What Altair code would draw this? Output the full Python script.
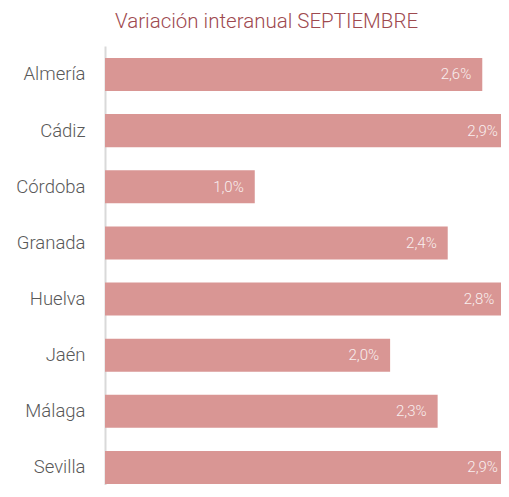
import altair as alt
import pandas as pd

provincias = ["Almería", "Cádiz", "Córdoba", "Granada", "Huelva", "Jaén", "Málaga", "Sevilla"]
valores = [2.62, 2.92, 1.04, 2.38, 2.78, 1.98, 2.31, 2.92]
etiquetas = ["2,6%", "2,9%", "1,0%", "2,4%", "2,8%", "2,0%", "2,3%", "2,9%"]

df = pd.DataFrame({"prov": provincias, "val": valores, "lab": etiquetas})

FONT = "Roboto"
XMAX = 2.75

y_enc = alt.Y(
    "prov:N",
    sort=provincias,
    title=None,
    scale=alt.Scale(paddingInner=0.412, paddingOuter=0.116, align=0.92),
    axis=alt.Axis(
        labelFont=FONT,
        labelFontSize=18.5,
        labelFontWeight=300,
        labelColor="#595959",
        labelPadding=20,
        ticks=False,
        domainColor="#D9D9D9",
        domainWidth=2,
        minExtent=97,
        maxExtent=97,
    ),
)
x_enc = alt.X("val:Q", title=None, axis=None, scale=alt.Scale(domain=[0, XMAX], nice=False))

bars = alt.Chart(df).mark_bar(color="#D99694", clip=True).encode(y=y_enc, x=x_enc)
texts = (
    alt.Chart(df)
    .transform_calculate(lx=f"min(datum.val, {XMAX + 0.055})")
    .mark_text(
        align="right", baseline="middle", dx=-11, font=FONT, fontSize=15, fontWeight=300,
        color="#FFFFFF", opacity=0.85,
    )
    .encode(y=alt.Y("prov:N", sort=provincias), x=alt.X("lx:Q"), text="lab:N")
)

chart = (
    alt.layer(bars, texts)
    .properties(
        width=396,
        height=439,
        padding={"left": 97, "top": 38, "right": 0, "bottom": 0},
        autosize=alt.AutoSizeParams(type="none"),
        title=alt.TitleParams(
            "Variación interanual SEPTIEMBRE",
            anchor="start",
            frame="group",
            dx=10,
            offset=14,
            font=FONT,
            fontSize=20.5,
            fontWeight=300,
            color="#9E4A4F",
        ),
    )
    .configure_view(stroke=None)
)

chart.save("out.html", embed_options={"renderer": "svg", "actions": False})
